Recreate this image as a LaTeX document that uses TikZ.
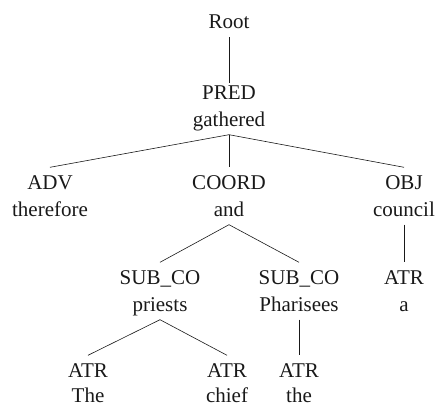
\documentclass[tikz,border=0pt]{standalone}
\usepackage{fontspec}
\setmainfont{Liberation Serif}
\usetikzlibrary{positioning}

\begin{document}
\begin{tikzpicture}[
x=1pt, y=-1pt,
font=\fontsize{21}{27}\selectfont,
lbl/.style={anchor=base, inner xsep=0pt, inner ysep=8pt, text height=14pt, text depth=0pt, text=black!90},
link/.style={draw=black!90, line width=0.6pt}
]
\useasboundingbox (0,0) rectangle (436,406);

\node[lbl] (root) at (229,29) {Root};

\node[lbl] (pred) at (229,99.5) {PRED};
\node[lbl] (predw) at (229,126.5) {gathered};

\node[lbl] (adv) at (50,189.5) {ADV};
\node[lbl] (advw) at (50,216.5) {therefore};
\node[lbl] (coord) at (229,189.5) {COORD};
\node[lbl] (coordw) at (229,216.5) {and};
\node[lbl] (obj) at (404,189.5) {OBJ};
\node[lbl] (objw) at (404,216.5) {council};

\node[lbl] (subl) at (160,284.5) {SUB\_CO};
\node[lbl] (sublw) at (160,311.5) {priests};
\node[lbl] (subr) at (299,284.5) {SUB\_CO};
\node[lbl] (subrw) at (299,311.5) {Pharisees};
\node[lbl] (atra) at (404,284.5) {ATR};
\node[lbl] (atraw) at (404,311.5) {a};

\node[lbl] (atrt) at (88,377.5) {ATR};
\node[lbl] (atrtw) at (88,402.5) {The};
\node[lbl] (atrc) at (227,377.5) {ATR};
\node[lbl] (atrcw) at (227,402.5) {chief};
\node[lbl] (atrh) at (299,377.5) {ATR};
\node[lbl] (atrhw) at (299,402.5) {the};

\draw[link, shorten >=-6pt] (root.south) -- (pred.north);
\draw[link] (predw.south) -- (adv.north);
\draw[link] (predw.south) -- (coord.north);
\draw[link] (predw.south) -- (obj.north);
\draw[link] (coordw.south) -- (subl.north);
\draw[link] (coordw.south) -- (subr.north);
\draw[link] (objw.south) -- (atra.north);
\draw[link] (sublw.south) -- (atrt.north);
\draw[link] (sublw.south) -- (atrc.north);
\draw[link] (subrw.south) -- (atrh.north);
\end{tikzpicture}
\end{document}
